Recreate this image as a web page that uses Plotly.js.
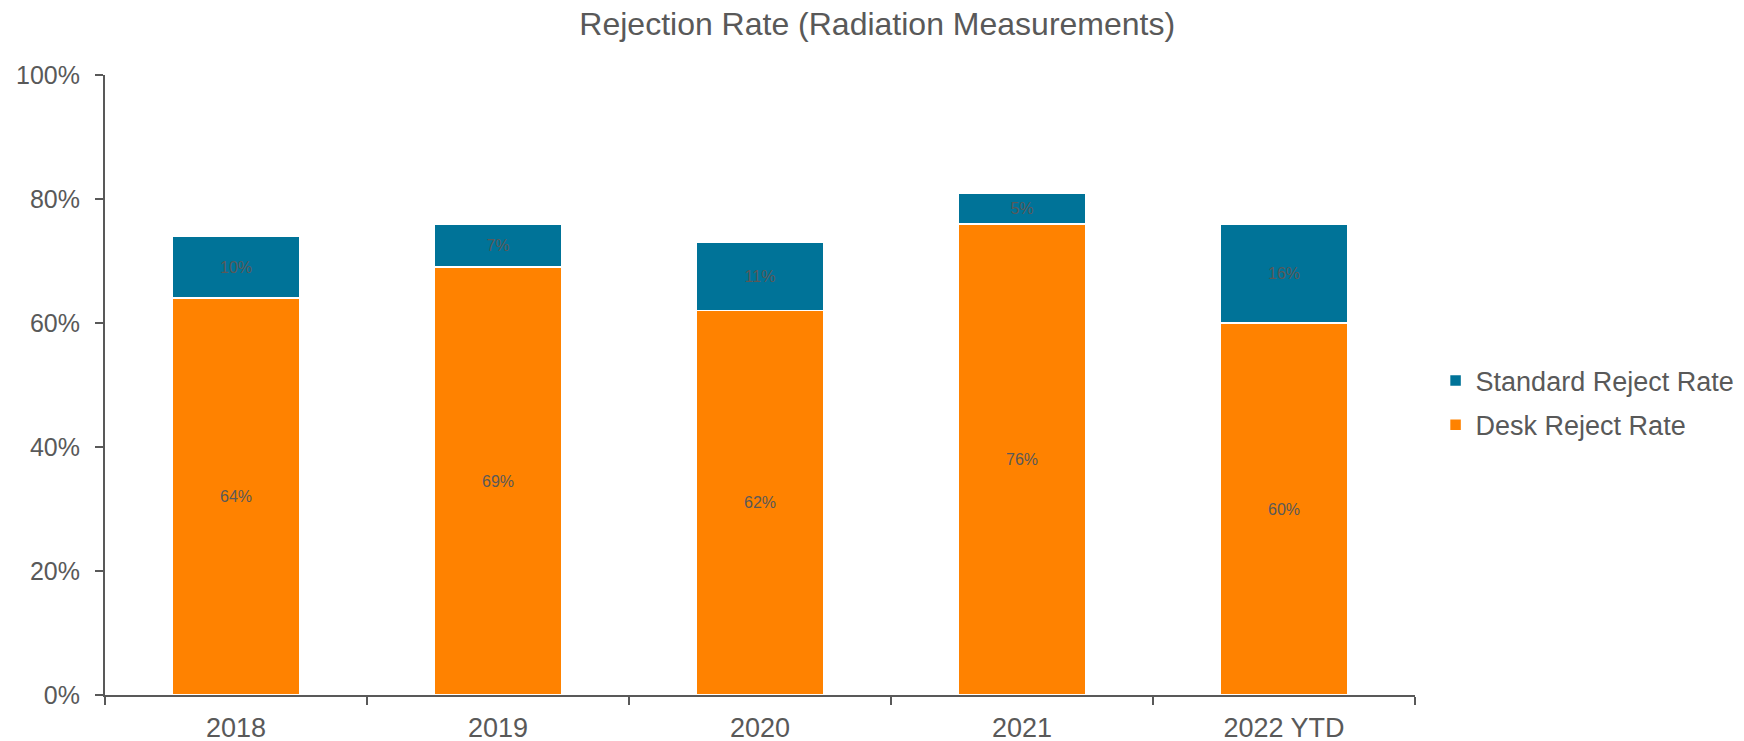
<!DOCTYPE html>
<html>
<head>
<meta charset="utf-8">
<script src="https://cdn.plot.ly/plotly-3.0.1.min.js"></script>
<style>html,body{margin:0;padding:0;background:#fff;}#chart{width:1744px;height:741px;}</style>
</head>
<body>
<div id="chart"></div>
<script>
const categories = ["2018", "2019", "2020", "2021", "2022 YTD"];
const deskReject = [64, 69, 62, 76, 60];
const standardReject = [10, 7, 11, 5, 16];
const seriesNames = ["Desk Reject Rate", "Standard Reject Rate"];
const yTicks = [0, 20, 40, 60, 80, 100];

const labelFont = {family: "Liberation Sans, Arial, sans-serif", size: 16, color: "#595959"};
const grey = "#595959";

const traces = [
  {
    type: "bar", name: seriesNames[0], legendgroup: "desk", legendrank: 2, x: categories, y: deskReject,
    marker: {color: "#FF8200", line: {color: "#ffffff", width: 1.5}},
    text: deskReject.map(v => v + "%"), texttemplate: "%{text}",
    textposition: "inside", insidetextanchor: "middle", textfont: labelFont,
    constraintext: "none", hoverinfo: "skip"
  },
  {
    type: "bar", name: seriesNames[1], legendgroup: "std", legendrank: 1, x: categories, y: standardReject,
    marker: {color: "#007398", line: {color: "#ffffff", width: 1.5}},
    text: standardReject.map(v => v + "%"), texttemplate: "%{text}",
    textposition: "inside", insidetextanchor: "middle", textfont: labelFont,
    constraintext: "none", hoverinfo: "skip"
  }
];

const layout = {
  width: 1744, height: 741,
  margin: {l: 105, r: 329, t: 75, b: 46, autoexpand: false},
  paper_bgcolor: "#ffffff", plot_bgcolor: "#ffffff",
  barmode: "stack", bargap: 0.51,
  font: {family: "Liberation Sans, Arial, sans-serif", color: grey, size: 24},
  title: {text: "Rejection Rate (Radiation Measurements)", x: 0.503, xref: "container", xanchor: "center",
          y: 0.968, yref: "container", yanchor: "middle",
          font: {size: 32, color: grey}},
  xaxis: {
    type: "category", showline: true, linecolor: grey, linewidth: 2,
    ticks: "outside", ticklen: 8, tickwidth: 2, tickcolor: grey, tickson: "boundaries",
    ticklabelstandoff: 8, showgrid: false, zeroline: false,
    tickfont: {size: 27, color: grey}
  },
  yaxis: {
    range: [0, 100], tickvals: yTicks, ticktext: yTicks.map(v => v + "%"),
    showline: true, linecolor: grey, linewidth: 2,
    ticks: "outside", ticklen: 8, tickwidth: 2, tickcolor: grey,
    ticklabelstandoff: 10, showgrid: false, zeroline: false,
    tickfont: {size: 25, color: grey}
  },
  showlegend: true,
  legend: {x: 1.0157, xanchor: "left", y: 0.471, yanchor: "middle",
           traceorder: "grouped", tracegroupgap: 6,
           font: {size: 27, color: grey}, itemwidth: 30},
};

Plotly.newPlot("chart", traces, layout, {staticPlot: true, displayModeBar: false});
</script>
</body>
</html>
